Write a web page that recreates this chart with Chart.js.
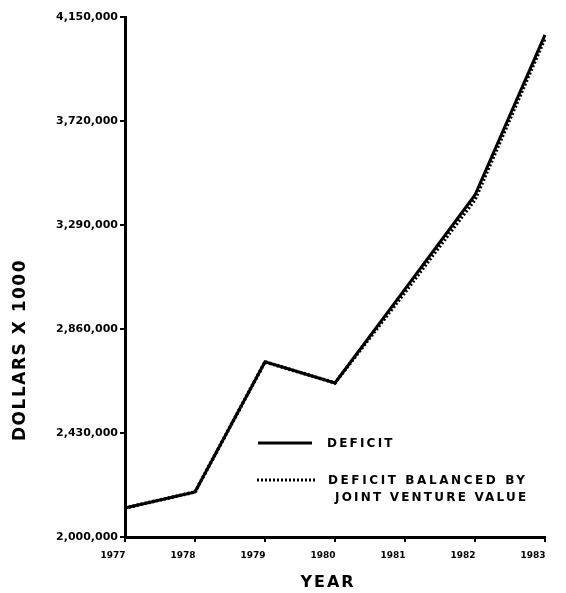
<!DOCTYPE html>
<html>
<head>
<meta charset="utf-8">
<script src="https://cdn.jsdelivr.net/npm/chart.js@4/dist/chart.umd.min.js"></script>
<style>
  html, body { margin: 0; padding: 0; background: #fff; }
  #wrap { width: 566px; height: 593px; position: relative; }
</style>
</head>
<body>
<div id="wrap"><canvas id="c" width="566" height="593"></canvas></div>
<script>
// ---- data ----
const years = ['1977', '1978', '1979', '1980', '1981', '1982', '1983'];
const deficit = [2120000, 2186000, 2724000, 2637000, 3025000, 3414000, 4076000];
const deficitBalanced = [2120000, 2186000, 2724000, 2637000, 3012000, 3395000, 4062000];
const yMin = 2000000;
const yMax = 4150000;
const yStep = 430000;
const yTitle = 'DOLLARS X 1000';
const xTitle = 'YEAR';
const legendDeficit = 'DEFICIT';
const legendBalanced = ['DEFICIT BALANCED BY', 'JOINT VENTURE VALUE'];

const FONT = '"DejaVu Sans", "Liberation Sans", sans-serif';

function spacedText(ctx, text, x, y, spacing) {
  if ('letterSpacing' in ctx) {
    ctx.letterSpacing = spacing + 'px';
    ctx.fillText(text, x, y);
    ctx.letterSpacing = '0px';
  } else {
    ctx.fillText(text, x, y);
  }
}

const annotations = {
  id: 'annotations',
  afterDraw(chart) {
    const ctx = chart.ctx;
    ctx.save();
    ctx.fillStyle = '#000';
    ctx.strokeStyle = '#000';
    // y title
    ctx.save();
    ctx.translate(21, 350);
    ctx.rotate(-Math.PI / 2);
    ctx.font = 'bold 17px ' + FONT;
    ctx.textAlign = 'center';
    ctx.textBaseline = 'middle';
    spacedText(ctx, yTitle, 0, 0, 1.5);
    ctx.restore();
    // x title
    ctx.font = 'bold 16px ' + FONT;
    ctx.textAlign = 'center';
    ctx.textBaseline = 'middle';
    spacedText(ctx, xTitle, 328, 583, 2);

    // legend
    ctx.lineWidth = 3;
    ctx.setLineDash([]);
    ctx.beginPath();
    ctx.moveTo(258, 443);
    ctx.lineTo(312, 443);
    ctx.stroke();
    ctx.setLineDash([2, 2]);
    ctx.lineWidth = 3;
    ctx.beginPath();
    ctx.moveTo(257, 480);
    ctx.lineTo(315, 480);
    ctx.stroke();
    ctx.setLineDash([]);

    ctx.font = 'bold 12px ' + FONT;
    ctx.textAlign = 'left';
    ctx.textBaseline = 'middle';
    spacedText(ctx, legendDeficit, 327, 444, 2.2);
    spacedText(ctx, legendBalanced[0], 328, 481, 2.6);
    spacedText(ctx, legendBalanced[1], 335, 498, 2.2);
    ctx.restore();
  }
};

new Chart(document.getElementById('c'), {
  type: 'line',
  data: {
    labels: years,
    datasets: [
      {
        label: 'DEFICIT BALANCED BY JOINT VENTURE VALUE',
        data: deficitBalanced,
        borderColor: '#000',
        borderWidth: 3.5,
        borderDash: [2, 2],
        pointRadius: 0,
        tension: 0,
        fill: false,
        order: 0
      },
      {
        label: 'DEFICIT',
        data: deficit,
        borderColor: '#000',
        borderWidth: 3,
        pointRadius: 0,
        tension: 0,
        fill: false,
        order: 1
      }
    ]
  },
  options: {
    responsive: false,
    animation: false,
    devicePixelRatio: 1,
    layout: { padding: { left: 0, top: 17, right: 21, bottom: 0 } },
    plugins: {
      legend: { display: false },
      tooltip: { enabled: false },
      title: { display: false }
    },
    scales: {
      x: {
        type: 'category',
        offset: false,
        grid: { display: true, drawOnChartArea: false, drawTicks: true, tickLength: 5, color: '#000', lineWidth: 2 },
        border: { display: true, color: '#000', width: 3 },
        ticks: {
          color: '#000',
          font: { family: FONT, size: 9, weight: 'bold' },
          padding: 8,
          labelOffset: -12,
          maxRotation: 0,
          autoSkip: false
        },
        afterFit(scale) { scale.height = 56; }
      },
      y: {
        type: 'linear',
        min: yMin,
        max: yMax,
        grid: { display: true, drawOnChartArea: false, drawTicks: true, tickLength: 5, color: '#000', lineWidth: 2 },
        border: { display: true, color: '#000', width: 3 },
        ticks: {
          stepSize: yStep,
          color: '#000',
          font: { family: FONT, size: 11, weight: 'bold' },
          padding: 2,
          callback: v => Math.round(v).toLocaleString('en-US')
        },
        afterFit(scale) { scale.width = 125; }
      }
    }
  },
  plugins: [annotations]
});
</script>
</body>
</html>
